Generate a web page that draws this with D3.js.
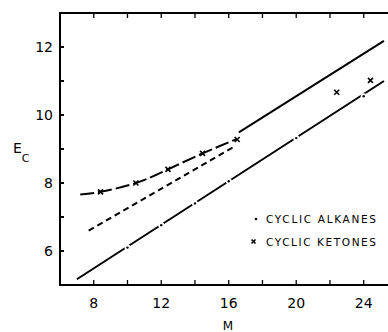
<!DOCTYPE html>
<html>
<head>
<meta charset="utf-8">
<script src="https://cdn.jsdelivr.net/npm/d3@7"></script>
<style>
  body { margin: 0; background: #fff; }
  svg { display: block; }
  text { font-family: "DejaVu Sans", sans-serif; fill: #000; }
</style>
</head>
<body>
<svg id="chart" width="388" height="332"></svg>
<script>
// data
var xTicks = [8, 12, 16, 20, 24];
var yTicks = [6, 8, 10, 12];
// cyclic alkanes points (on the dash-dot line)
var alkaneM = [10, 12, 14, 16, 20, 24];
var alkaneE = [6.1, 6.76, 7.4, 8.05, 9.32, 10.55];
var alkaneLine = [[7.0, 5.17], [25.2, 11.0]];
// cyclic ketones
var ketoneM = [8.4, 10.5, 12.4, 14.45, 16.5, 22.4, 24.4];
var ketoneE = [7.74, 8.0, 8.4, 8.87, 9.28, 10.67, 11.02];
var ketoneCurve = [[7.2, 7.66], [8.4, 7.74], [10.5, 8.0], [12.4, 8.4], [14.45, 8.87], [16.5, 9.3]];
// upper straight line: dashed part and solid part
var dashedLine = [[7.7, 6.6], [16.3, 9.06]];
var solidLine = [[16.6, 9.49], [25.2, 12.18]];
var legendItems = ["CYCLIC ALKANES", "CYCLIC KETONES"];

var svg = d3.select("#chart");
var x = d3.scaleLinear().domain([6, 25.44]).range([60, 388]);
var y = d3.scaleLinear().domain([5, 13]).range([285, 13]);

// frame: left, top, bottom
var g = svg.append("g");
g.append("line").attr("x1", 60).attr("x2", 60).attr("y1", 12).attr("y2", 286)
  .attr("stroke", "#000").attr("stroke-width", 2);
g.append("line").attr("x1", 59).attr("x2", 388).attr("y1", 13).attr("y2", 13)
  .attr("stroke", "#000").attr("stroke-width", 2);
g.append("line").attr("x1", 59).attr("x2", 388).attr("y1", 285).attr("y2", 285)
  .attr("stroke", "#000").attr("stroke-width", 2);

// ticks (inward)
var xt = d3.range(8, 25, 2);
g.selectAll(".tb").data(xt).enter().append("line")
  .attr("x1", d => x(d)).attr("x2", d => x(d))
  .attr("y1", 285).attr("y2", 280)
  .attr("stroke", "#000").attr("stroke-width", 1.3);
g.selectAll(".tt").data(xt).enter().append("line")
  .attr("x1", d => x(d)).attr("x2", d => x(d))
  .attr("y1", 13).attr("y2", 18)
  .attr("stroke", "#000").attr("stroke-width", 1.3);
g.selectAll(".tl").data(d3.range(6, 13, 1)).enter().append("line")
  .attr("x1", 60).attr("x2", 64)
  .attr("y1", d => y(d)).attr("y2", d => y(d))
  .attr("stroke", "#000").attr("stroke-width", 2);

// tick labels
g.selectAll(".xl").data(xTicks).enter().append("text")
  .attr("x", d => x(d)).attr("y", 308)
  .attr("text-anchor", "middle").attr("font-size", 14)
  .text(d => d);
g.selectAll(".yl").data(yTicks).enter().append("text")
  .attr("x", 53).attr("y", d => y(d) + 5)
  .attr("text-anchor", "end").attr("font-size", 14)
  .text(d => d);

// axis titles
svg.append("text").attr("x", 228).attr("y", 330)
  .attr("text-anchor", "middle").attr("font-size", 12).text("M");
var ec = svg.append("text").attr("x", 13).attr("y", 153).attr("font-size", 14);
ec.append("tspan").text("E");
ec.append("tspan").attr("font-size", 11).attr("dy", 9).text("C");

var line = d3.line().x(d => x(d[0])).y(d => y(d[1]));

// alkane dash-dot line
svg.append("path").attr("d", line(alkaneLine))
  .attr("fill", "none").attr("stroke", "#000").attr("stroke-width", 2);
alkaneM.forEach(function (m, i) {
  svg.append("circle").attr("cx", x(m)).attr("cy", y(alkaneE[i])).attr("r", 3).attr("fill", "#fff");
  svg.append("circle").attr("cx", x(m)).attr("cy", y(alkaneE[i])).attr("r", 1.2).attr("fill", "#000");
});

// upper straight line
svg.append("path").attr("d", line(dashedLine))
  .attr("fill", "none").attr("stroke", "#000").attr("stroke-width", 2)
  .attr("stroke-dasharray", "6,4");
svg.append("path").attr("d", line(solidLine))
  .attr("fill", "none").attr("stroke", "#000").attr("stroke-width", 2);

// ketone curve
svg.append("path").attr("d", d3.line().curve(d3.curveNatural).x(d => x(d[0])).y(d => y(d[1]))(ketoneCurve))
  .attr("fill", "none").attr("stroke", "#000").attr("stroke-width", 2)
  .attr("stroke-dasharray", "14,4");

// x markers
function cross(sel, cx, cy, s) {
  sel.append("path")
    .attr("d", "M" + (cx - s) + "," + (cy - s) + "L" + (cx + s) + "," + (cy + s) +
               "M" + (cx - s) + "," + (cy + s) + "L" + (cx + s) + "," + (cy - s))
    .attr("stroke", "#000").attr("stroke-width", 1.6);
}
ketoneM.forEach(function (m, i) {
  cross(svg, x(m), y(ketoneE[i]), 2.5);
});

// legend
svg.append("circle").attr("cx", 256).attr("cy", 219).attr("r", 1.3).attr("fill", "#000");
cross(svg, 253.5, 241.5, 2);
svg.selectAll(".lg").data(legendItems).enter().append("text")
  .attr("x", 266).attr("y", (d, i) => 223 + i * 23)
  .attr("font-size", 10.5)
  .attr("textLength", 110).attr("lengthAdjust", "spacing")
  .text(d => d);
</script>
</body>
</html>
